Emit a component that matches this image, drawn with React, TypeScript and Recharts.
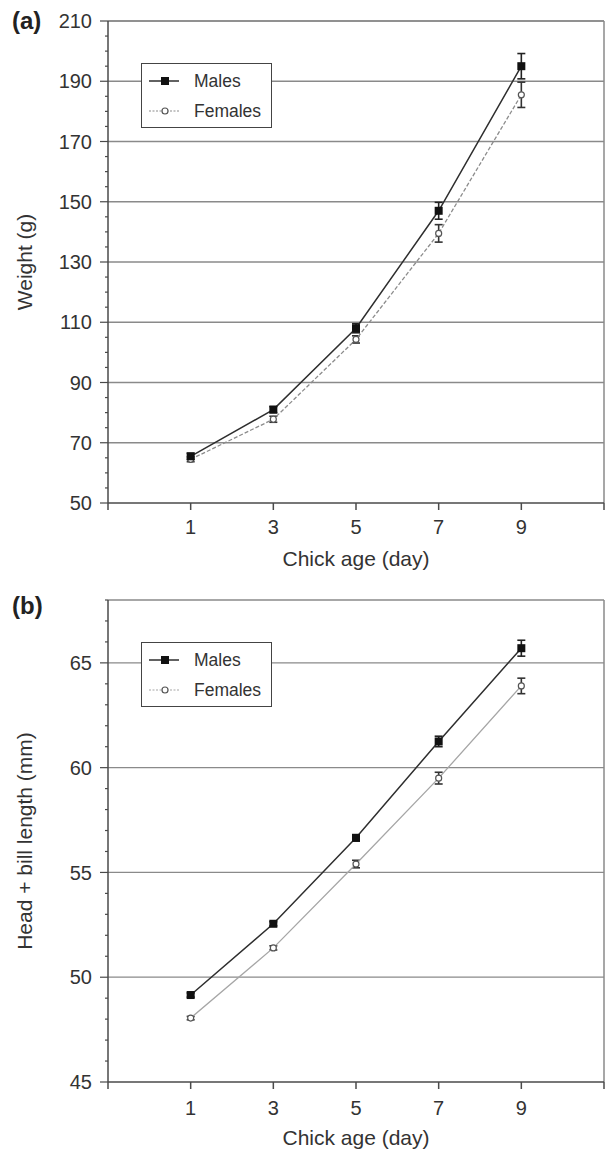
import {
  LineChart,
  Line,
  XAxis,
  YAxis,
  ErrorBar,
  ReferenceLine,
  Legend,
} from 'recharts';

/* Chick growth by sex: (a) body weight, (b) head + bill length.
   Means with error bars at days 1-9. */

const FONT = '"Liberation Sans", Arial, Helvetica, sans-serif';
const INK = '#333333';
const AXIS = '#4a4a4a';
const GRID = '#8a8a8a';
const MALE = '#2e2e2e';
const FEMALE_A = '#8c8c8c';
const FEMALE_B = '#a6a6a6';

const DAYS = [1, 3, 5, 7, 9];
const X_TICKS = [-1, 1, 3, 5, 7, 9, 11];
const SERIES_NAMES = ['Males', 'Females'];

// (a) weight, g
const WEIGHT_MALE = [65.5, 81.0, 108.0, 147.0, 195.0];
const WEIGHT_MALE_SE = [1.0, 1.0, 1.5, 2.8, 4.2];
const WEIGHT_FEMALE = [64.5, 77.8, 104.3, 139.5, 185.5];
const WEIGHT_FEMALE_SE = [0.8, 1.0, 1.2, 2.9, 4.2];
const WEIGHT_MAJOR = [50, 70, 90, 110, 130, 150, 170, 190, 210];
const WEIGHT_MINOR = [50, 55, 60, 65, 70, 75, 80, 85, 90, 95, 100, 105, 110, 115, 120, 125, 130, 135, 140, 145, 150, 155, 160, 165, 170, 175, 180, 185, 190, 195, 200, 205, 210];

// (b) head + bill length, mm
const HEAD_MALE = [49.15, 52.55, 56.65, 61.25, 65.7];
const HEAD_MALE_SE = [0.1, 0.1, 0.15, 0.25, 0.38];
const HEAD_FEMALE = [48.05, 51.4, 55.4, 59.5, 63.9];
const HEAD_FEMALE_SE = [0.08, 0.1, 0.18, 0.28, 0.37];
const HEAD_MAJOR = [45, 50, 55, 60, 65];
const HEAD_MINOR = [45, 46, 47, 48, 49, 50, 51, 52, 53, 54, 55, 56, 57, 58, 59, 60, 61, 62, 63, 64, 65, 66, 67, 68];

const TICK_SIZE = 8;
const TICK_GAP = 8;

function buildRows(male: number[], maleSe: number[], female: number[], femaleSe: number[]) {
  return DAYS.map((day, i) => ({
    day,
    male: male[i],
    maleSe: maleSe[i],
    female: female[i],
    femaleSe: femaleSe[i],
  }));
}

function YTick(props: any) {
  const { x, y, payload, majors } = props;
  const axisX = x + TICK_SIZE + TICK_GAP;
  const isMajor = majors.includes(payload.value);
  return (
    <g>
      <line
        x1={axisX - (isMajor ? 8 : 3)}
        x2={axisX}
        y1={y}
        y2={y}
        stroke={AXIS}
        strokeWidth={1.2}
      />
      {isMajor && (
        <text
          x={x}
          y={y}
          dy="0.36em"
          textAnchor="end"
          fontSize={20}
          fill={INK}
          fontFamily={FONT}
        >
          {payload.value}
        </text>
      )}
    </g>
  );
}

function SquareDot(props: any) {
  const { cx, cy, index } = props;
  return <rect key={`m${index}`} x={cx - 4} y={cy - 4} width={8} height={8} fill="#111" />;
}

function CircleDot(props: any) {
  const { cx, cy, index } = props;
  return <circle key={`f${index}`} cx={cx} cy={cy} r={3} fill="#fff" stroke="#555" strokeWidth={1.2} />;
}

function LegendBox({ femaleColor }: { femaleColor: string }) {
  const rowStyle: React.CSSProperties = {
    position: 'absolute',
    left: 0,
    height: 24,
    display: 'flex',
    alignItems: 'center',
  };
  return (
    <div
      style={{
        position: 'relative',
        width: 131,
        height: 65,
        boxSizing: 'border-box',
        border: '1.5px solid #444',
        background: '#fff',
        fontFamily: FONT,
        fontSize: 17.5,
        color: INK,
      }}
    >
      {SERIES_NAMES.map((name, i) => (
        <div key={name} style={{ ...rowStyle, top: i === 0 ? 5 : 35 }}>
          <svg width={50} height={24} style={{ display: 'block' }}>
            {i === 0 ? (
              <>
                <line x1={7} x2={37} y1={12} y2={12} stroke={MALE} strokeWidth={1.5} />
                <rect x={19} y={8} width={8} height={8} fill="#111" />
              </>
            ) : (
              <>
                <line x1={7} x2={37} y1={12} y2={12} stroke={femaleColor} strokeWidth={1.2} strokeDasharray="2 1.5" />
                <circle cx={23} cy={12} r={3} fill="#fff" stroke="#555" strokeWidth={1.2} />
              </>
            )}
          </svg>
          <span style={{ marginLeft: 2 }}>{name}</span>
        </div>
      ))}
    </div>
  );
}

interface PanelProps {
  rows: ReturnType<typeof buildRows>;
  yDomain: [number, number];
  majors: number[];
  minors: number[];
  yLabel: string;
  femaleColor: string;
  femaleDash?: string;
  height: number;
  margin: { top: number; right: number; bottom: number; left: number };
  xTickMargin: number;
  legendTop: number;
}

function GrowthPanel({
  rows,
  yDomain,
  majors,
  minors,
  yLabel,
  femaleColor,
  femaleDash,
  height,
  margin,
  xTickMargin,
  legendTop,
}: PanelProps) {
  return (
    <LineChart width={607} height={height} data={rows} margin={margin}>
      {majors
        .filter((v) => v !== yDomain[0])
        .map((v) => (
          <ReferenceLine key={v} y={v} stroke={GRID} strokeWidth={1.3} />
        ))}
      <ReferenceLine y={yDomain[1]} stroke={GRID} strokeWidth={1.3} />
      <ReferenceLine x={11} stroke={GRID} strokeWidth={1.5} />
      <XAxis
        type="number"
        dataKey="day"
        domain={[-1, 11]}
        ticks={X_TICKS}
        interval={0}
        allowDataOverflow
        height={65}
        stroke={AXIS}
        strokeWidth={1.5}
        tickSize={7}
        tickMargin={xTickMargin}
        tickFormatter={(v: number) => (v < 1 || v > 9 ? '' : String(v))}
        tick={{ fontSize: 20, fill: INK, fontFamily: FONT }}
        label={{
          value: 'Chick age (day)',
          position: 'insideBottom',
          offset: 2,
          fontSize: 21,
          fill: INK,
          fontFamily: FONT,
        }}
      />
      <YAxis
        type="number"
        domain={yDomain}
        ticks={minors}
        interval={0}
        allowDataOverflow
        width={108}
        stroke={AXIS}
        strokeWidth={1.5}
        tickLine={false}
        tickSize={TICK_SIZE}
        tickMargin={TICK_GAP}
        tick={(p: any) => <YTick {...p} majors={majors} />}
        label={{
          value: yLabel,
          angle: -90,
          position: 'insideLeft',
          offset: 25,
          fontSize: 21,
          fill: INK,
          fontFamily: FONT,
          style: { textAnchor: 'middle' },
        }}
      />
      <Legend
        layout="horizontal"
        verticalAlign="middle"
        align="center"
        wrapperStyle={{ left: 141, top: legendTop, width: 131, height: 65 }}
        content={() => <LegendBox femaleColor={femaleColor} />}
      />
      <Line
        dataKey="female"
        name="Females"
        stroke={femaleColor}
        strokeWidth={1.3}
        strokeDasharray={femaleDash}
        dot={CircleDot}
        activeDot={false}
        isAnimationActive={false}
      >
        <ErrorBar dataKey="femaleSe" direction="y" width={4} stroke="#333" strokeWidth={1.6} />
      </Line>
      <Line
        dataKey="male"
        name="Males"
        stroke={MALE}
        strokeWidth={1.5}
        dot={SquareDot}
        activeDot={false}
        isAnimationActive={false}
      >
        <ErrorBar dataKey="maleSe" direction="y" width={4} stroke="#222" strokeWidth={1.6} />
      </Line>
    </LineChart>
  );
}

const panelLabel: React.CSSProperties = {
  position: 'absolute',
  left: 12,
  fontFamily: FONT,
  fontWeight: 'bold',
  fontSize: 24,
  lineHeight: '24px',
  color: '#222',
};

export default function App() {
  const weightRows = buildRows(WEIGHT_MALE, WEIGHT_MALE_SE, WEIGHT_FEMALE, WEIGHT_FEMALE_SE);
  const headRows = buildRows(HEAD_MALE, HEAD_MALE_SE, HEAD_FEMALE, HEAD_FEMALE_SE);
  return (
    <div
      style={{
        position: 'absolute',
        left: 0,
        top: 0,
        width: 607,
        height: 1150,
        background: '#fff',
        overflow: 'hidden',
      }}
    >
      <div style={{ position: 'absolute', left: 0, top: 0 }}>
        <GrowthPanel
          rows={weightRows}
          yDomain={[50, 210]}
          majors={WEIGHT_MAJOR}
          minors={WEIGHT_MINOR}
          yLabel="Weight (g)"
          femaleColor={FEMALE_A}
          femaleDash="4 2"
          height={580}
          margin={{ top: 21, right: 3, bottom: 12, left: 0 }}
          xTickMargin={10}
          legendTop={63}
        />
      </div>
      <div style={{ position: 'absolute', left: 0, top: 580 }}>
        <GrowthPanel
          rows={headRows}
          yDomain={[45, 68]}
          majors={HEAD_MAJOR}
          minors={HEAD_MINOR}
          yLabel="Head + bill length (mm)"
          femaleColor={FEMALE_B}
          height={570}
          margin={{ top: 20, right: 3, bottom: 3, left: 0 }}
          xTickMargin={12}
          legendTop={62}
        />
      </div>
      <div style={{ ...panelLabel, top: 9 }}>(a)</div>
      <div style={{ ...panelLabel, top: 594 }}>(b)</div>
    </div>
  );
}
